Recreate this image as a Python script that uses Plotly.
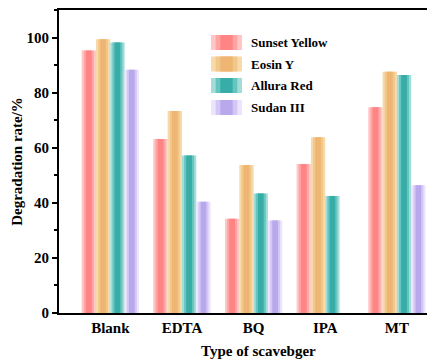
import plotly.graph_objects as go

categories = ["Blank", "EDTA", "BQ", "IPA", "MT"]
series_names = ["Sunset Yellow", "Eosin Y", "Allura Red", "Sudan III"]
sunset_yellow = [95.3, 63.2, 34.2, 54.1, 74.7]
eosin_y = [99.4, 73.3, 53.7, 63.8, 87.6]
allura_red = [98.2, 57.2, 43.4, 42.5, 86.4]
sudan_iii = [88.3, 40.4, 33.6, 0, 46.4]
y_ticks = [0, 20, 40, 60, 80, 100]

values = [sunset_yellow, eosin_y, allura_red, sudan_iii]
# light edge, mid, dark center (approximate gradient)
palettes = [
    ["#FFC6C6", "#FFA3A3", "#FF8585"],
    ["#F7DAA8", "#F2C78B", "#EEB672"],
    ["#A2DDD9", "#67C5C0", "#38ADA8"],
    ["#EDE3FD", "#D3C7F6", "#B9A9EC"],
]
layer_w = [0.2, 0.14, 0.08]
font_fam = "Liberation Serif"

fig = go.Figure()
for i, (name, vals) in enumerate(zip(series_names, values)):
    for w, col in zip(layer_w, palettes[i]):
        off = -0.4 + i * 0.2 + (0.2 - w) / 2
        fig.add_trace(go.Bar(
            x=list(range(len(categories))), y=vals, name=name,
            width=w, offset=off, marker=dict(color=col, line=dict(width=0)),
            showlegend=False, hoverinfo="skip",
        ))

L, R, T, B = 59, 0, 10, 47
W, H = 427, 360
pw = W - L - R
ph = H - T - B

def px_x(px):
    return (px - L) / pw

def px_y(py):
    return (H - B - py) / ph

shapes = []
annotations = []
row_centers = [42.5, 64, 85.5, 107.5]
bx0, bx1 = 211, 242
for i, name in enumerate(series_names):
    cy = row_centers[i]
    for w, col in zip(layer_w, palettes[i]):
        frac = w / 0.2
        half = (bx1 - bx0) * frac / 2
        mid = (bx0 + bx1) / 2
        shapes.append(dict(type="rect", xref="paper", yref="paper",
                           x0=px_x(mid - half), x1=px_x(mid + half),
                           y0=px_y(cy + 7.5), y1=px_y(cy - 7.5),
                           fillcolor=col, line=dict(width=0), layer="above"))
    annotations.append(dict(text=name, xref="paper", yref="paper",
                            x=px_x(249), y=px_y(cy), xanchor="left", yanchor="middle",
                            showarrow=False,
                            font=dict(family=font_fam, size=13, color="black", weight="bold")))

annotations.append(dict(text="Type of scavebger", xref="paper", yref="paper",
                        x=px_x(258), y=px_y(350.5), xanchor="center", yanchor="middle",
                        showarrow=False,
                        font=dict(family=font_fam, size=15, color="black", weight="bold")))

fig.update_layout(
    width=W, height=H,
    margin=dict(l=L, r=R, t=T, b=B, pad=0),
    barmode="overlay",
    plot_bgcolor="white", paper_bgcolor="white",
    showlegend=False,
    shapes=shapes, annotations=annotations,
    font=dict(family=font_fam, size=15, color="black", weight="bold"),
)
fig.update_xaxes(
    tickmode="array", tickvals=list(range(len(categories))), ticktext=categories,
    range=[-0.716, 4.42], showline=True, linecolor="black", linewidth=2,
    mirror=True, ticks="", showgrid=False, zeroline=False,
    tickfont=dict(family=font_fam, size=15, color="black", weight="bold"),
)
fig.update_yaxes(
    range=[0, 110], tickmode="array", tickvals=y_ticks,
    showline=True, linecolor="black", linewidth=2, mirror=False,
    ticks="outside", ticklen=5, tickwidth=1.5, tickcolor="black",
    minor=dict(ticks="outside", ticklen=3, tickwidth=1.5, tickcolor="black", dtick=10, tick0=0),
    showgrid=False, zeroline=False,
    tickfont=dict(family=font_fam, size=15, color="black", weight="bold"),
    title=dict(text="Degradation rate/%", standoff=0,
               font=dict(family=font_fam, size=15, color="black", weight="bold")),
)

fig.write_html("out.html")
